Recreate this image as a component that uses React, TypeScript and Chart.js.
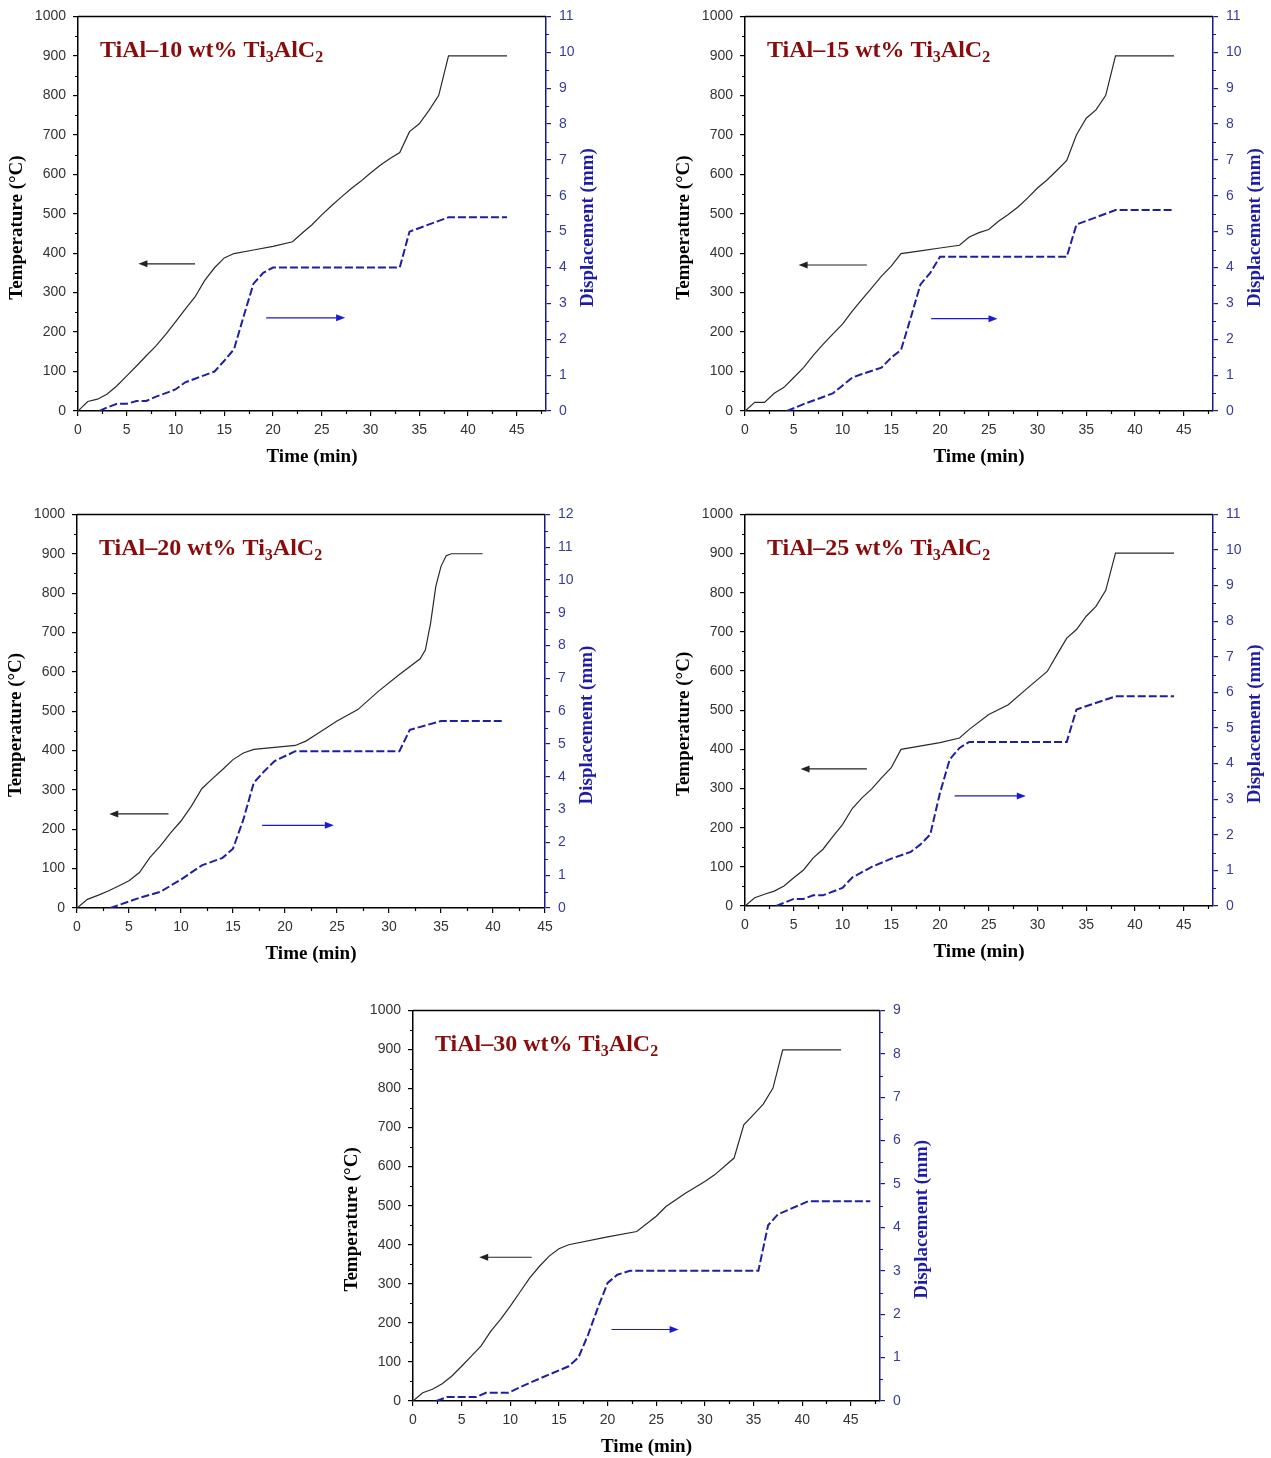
import React, { useEffect, useRef } from 'react';
import { Chart, registerables } from 'chart.js';
Chart.register(...registerables);

// ---------- tick values ----------
const xTickValues = [0, 5, 10, 15, 20, 25, 30, 35, 40, 45];
const tempTickValues = [0, 100, 200, 300, 400, 500, 600, 700, 800, 900, 1000];

// ---------- TiAl–10 wt% ----------
const time10 = [0, 1, 2, 3, 4, 5, 6, 7, 8, 9, 10, 11, 12, 13, 14, 15, 16, 18, 20, 22, 23, 24, 25, 26, 27, 28, 29, 30, 31, 32, 33, 34, 35, 36, 37, 38, 44];
const temp10 = [0, 24, 30, 43, 64, 89, 114, 140, 165, 194, 226, 258, 289, 331, 363, 388, 399, 408, 417, 429, 451, 472, 497, 520, 542, 563, 582, 603, 623, 640, 655, 708, 728, 762, 800, 900, 900];
const dispTime10 = [2.2, 3, 4, 5, 6, 7, 8, 9, 10, 11, 12, 13, 14, 15, 16, 17, 18, 19, 20, 33, 34, 38, 44];
const disp10 = [0, 0.1, 0.2, 0.2, 0.28, 0.28, 0.4, 0.5, 0.6, 0.8, 0.9, 1.0, 1.1, 1.4, 1.72, 2.65, 3.55, 3.85, 4.0, 4.0, 5.0, 5.4, 5.4];

// ---------- TiAl–15 wt% ----------
const time15 = [0, 1, 2, 3, 4, 5, 6, 7, 8, 9, 10, 11, 12, 13, 14, 15, 16, 18, 20, 22, 23, 24, 25, 26, 27, 28, 29, 30, 31, 32, 33, 34, 35, 36, 37, 38, 44];
const temp15 = [0, 22, 22, 45, 60, 85, 110, 141, 169, 195, 220, 253, 283, 312, 342, 367, 399, 406, 413, 420, 441, 452, 460, 481, 498, 517, 540, 565, 586, 610, 635, 700, 742, 763, 800, 900, 900];
const dispTime15 = [4.3, 6, 9, 11, 12, 14, 15, 16, 17, 18, 19, 20, 33, 34, 38, 44];
const disp15 = [0, 0.19, 0.49, 0.93, 1.03, 1.21, 1.49, 1.7, 2.6, 3.53, 3.85, 4.3, 4.3, 5.2, 5.6, 5.6];

// ---------- TiAl–20 wt% ----------
const time20 = [0, 1, 2, 3, 4, 5, 6, 7, 8, 9, 10, 11, 12, 13, 14, 15, 16, 17, 19, 21, 22, 23, 25, 27, 29, 31, 33, 33.5, 34, 34.5, 35, 35.5, 36, 39];
const temp20 = [0, 22, 32, 43, 56, 69, 90, 128, 157, 191, 221, 259, 303, 328, 352, 377, 394, 403, 408, 413, 424, 441, 475, 504, 551, 593, 633, 656, 724, 817, 868, 895, 900, 900];
const dispTime20 = [3.2, 6, 8, 10, 12, 14, 15, 16, 17, 18, 19, 21, 31, 32, 35, 41];
const disp20 = [0, 0.31, 0.49, 0.87, 1.3, 1.53, 1.81, 2.7, 3.82, 4.17, 4.48, 4.78, 4.78, 5.43, 5.7, 5.7];

// ---------- TiAl–25 wt% ----------
const time25 = [0, 1, 2, 3, 4, 5, 6, 7, 8, 9, 10, 11, 12, 13, 14, 15, 16, 20, 22, 23, 25, 27, 29, 31, 32, 33, 34, 35, 36, 37, 38, 44];
const temp25 = [0, 21, 30, 38, 51, 72, 92, 123, 145, 177, 208, 249, 276, 299, 327, 353, 400, 417, 429, 451, 489, 514, 557, 599, 642, 684, 706, 740, 765, 806, 901, 901];
const dispTime25 = [3.2, 5, 6, 7, 8, 10, 11, 13, 15, 17, 18, 19, 20, 21, 22, 23, 33, 34, 38, 44];
const disp25 = [0, 0.2, 0.2, 0.3, 0.3, 0.51, 0.8, 1.1, 1.33, 1.52, 1.73, 2.01, 3.18, 4.12, 4.44, 4.61, 4.61, 5.52, 5.89, 5.89];

// ---------- TiAl–30 wt% ----------
const time30 = [0, 1, 2, 3, 4, 5, 6, 7, 8, 9, 10, 11, 12, 13, 14, 15, 16, 20, 23, 25, 26, 28, 30, 31, 33, 34, 35, 36, 37, 38, 44];
const temp30 = [0, 21, 30, 44, 64, 89, 115, 141, 179, 209, 243, 279, 315, 345, 371, 390, 400, 420, 434, 473, 498, 532, 562, 579, 622, 707, 733, 760, 801, 899, 899];
const dispTime30 = [2.4, 3.5, 6.5, 7.5, 9.8, 12, 16, 17, 18, 19, 20, 21, 22.3, 35.5, 36.5, 37.5, 40.6, 47];
const disp30 = [0, 0.09, 0.09, 0.19, 0.19, 0.42, 0.8, 1.0, 1.53, 2.15, 2.72, 2.91, 3.0, 3.0, 4.05, 4.3, 4.6, 4.6];

const dispTicks = (max: number) => Array.from({ length: max + 1 }, (_, i) => i);

type Panel = {
  pct: string;
  time: number[]; temp: number[]; dTime: number[]; disp: number[];
  xMax: number; dMax: number;
  left: number; top: number; w: number; h: number;
  aL: number; aR: number; aT: number; aB: number;
  blackArrow: [number, number, number]; // x from, x to, y (temp units)
  blueArrow: [number, number, number];
};

const panels: Panel[] = [
  { pct: '10', time: time10, temp: temp10, dTime: dispTime10, disp: disp10, xMax: 48, dMax: 11,
    left: 0, top: 0, w: 625, h: 475, aL: 78, aR: 546, aT: 16, aB: 411,
    blackArrow: [12.0, 6.2, 373], blueArrow: [19.3, 27.4, 236] },
  { pct: '15', time: time15, temp: temp15, dTime: dispTime15, disp: disp15, xMax: 48, dMax: 11,
    left: 667, top: 0, w: 604, h: 475, aL: 78, aR: 546, aT: 16, aB: 411,
    blackArrow: [12.5, 5.5, 370], blueArrow: [19.1, 25.9, 234] },
  { pct: '20', time: time20, temp: temp20, dTime: dispTime20, disp: disp20, xMax: 45, dMax: 12,
    left: 0, top: 498, w: 625, h: 475, aL: 77, aR: 545, aT: 16, aB: 410,
    blackArrow: [8.8, 3.1, 239], blueArrow: [17.8, 24.7, 210] },
  { pct: '25', time: time25, temp: temp25, dTime: dispTime25, disp: disp25, xMax: 48, dMax: 11,
    left: 667, top: 498, w: 604, h: 475, aL: 78, aR: 546, aT: 16, aB: 408,
    blackArrow: [12.5, 5.7, 350], blueArrow: [21.5, 28.8, 281] },
  { pct: '30', time: time30, temp: temp30, dTime: dispTime30, disp: disp30, xMax: 48, dMax: 9,
    left: 335, top: 994, w: 625, h: 464, aL: 78, aR: 545, aT: 16, aB: 407,
    blackArrow: [12.2, 6.8, 368], blueArrow: [20.4, 27.3, 183] },
];

const SERIF = '"Liberation Serif", "Times New Roman", serif';
const SANS = '"Liberation Sans", Arial, sans-serif';
const BLUE_LINE = '#1f1fa3';
const BLUE_AXIS = '#1a1a8c';
const BLUE_TEXT = '#3a3a9e';
const RED = '#8a0b0b';

function decorPlugin(p: Panel) {
  return {
    id: 'decor' + p.pct,
    afterDraw(chart: any) {
      const ctx = chart.ctx as CanvasRenderingContext2D;
      const a = chart.chartArea;
      const sx = chart.scales.x, sy = chart.scales.y, sy2 = chart.scales.y2;
      ctx.save();
      // top frame
      ctx.strokeStyle = '#000';
      ctx.lineWidth = 1.5;
      ctx.beginPath();
      ctx.moveTo(a.left, a.top);
      ctx.lineTo(a.right, a.top);
      ctx.stroke();
      // minor ticks
      ctx.lineWidth = 1.2;
      ctx.strokeStyle = '#000';
      ctx.beginPath();
      for (let v = 2.5; v < p.xMax; v += 5) {
        const px = Math.round(sx.getPixelForValue(v)) + 0.5;
        ctx.moveTo(px, a.bottom);
        ctx.lineTo(px, a.bottom + 3);
      }
      for (let v = 50; v < 1000; v += 100) {
        const py = Math.round(sy.getPixelForValue(v)) + 0.5;
        ctx.moveTo(a.left - 3, py);
        ctx.lineTo(a.left, py);
      }
      ctx.stroke();
      ctx.strokeStyle = BLUE_AXIS;
      ctx.beginPath();
      for (let v = 0.5; v < p.dMax; v += 1) {
        const py = Math.round(sy2.getPixelForValue(v)) + 0.5;
        ctx.moveTo(a.right, py);
        ctx.lineTo(a.right + 3, py);
      }
      ctx.stroke();

      // arrows
      const arrow = (spec: [number, number, number], color: string) => {
        const x1 = sx.getPixelForValue(spec[0]);
        const x2 = sx.getPixelForValue(spec[1]);
        const y = sy.getPixelForValue(spec[2]);
        const dir = Math.sign(x2 - x1);
        ctx.strokeStyle = color;
        ctx.fillStyle = color;
        ctx.lineWidth = 1.2;
        ctx.beginPath();
        ctx.moveTo(x1, y);
        ctx.lineTo(x2 - dir * 6, y);
        ctx.stroke();
        ctx.beginPath();
        ctx.moveTo(x2, y);
        ctx.lineTo(x2 - dir * 9, y - 3.5);
        ctx.lineTo(x2 - dir * 9, y + 3.5);
        ctx.closePath();
        ctx.fill();
      };
      arrow(p.blackArrow, '#222');
      arrow(p.blueArrow, '#1a1ad0');

      // composition label with subscripts
      const main = 'bold 24px ' + SERIF;
      const sub = 'bold 16px ' + SERIF;
      let x = a.left + 22;
      const yb = a.top + 41;
      ctx.fillStyle = RED;
      ctx.textBaseline = 'alphabetic';
      ctx.textAlign = 'left';
      const parts: [string, boolean][] = [['TiAl\u2013' + p.pct + ' wt% Ti', false], ['3', true], ['AlC', false], ['2', true]];
      for (const [t, isSub] of parts) {
        ctx.font = isSub ? sub : main;
        ctx.fillText(t, x, isSub ? yb + 5 : yb);
        x += ctx.measureText(t).width;
      }

      // axis titles
      const midY = a.top + (a.bottom - a.top) * 0.535;
      ctx.font = 'bold 19px ' + SERIF;
      ctx.textAlign = 'center';
      ctx.textBaseline = 'middle';
      ctx.fillStyle = '#000';
      ctx.save();
      ctx.translate(a.left - 61, midY);
      ctx.rotate(-Math.PI / 2);
      ctx.fillText('Temperature (\u00B0C)', 0, 0);
      ctx.restore();
      ctx.save();
      ctx.fillStyle = '#1c1ca8';
      ctx.translate(a.right + 42, midY);
      ctx.rotate(-Math.PI / 2);
      ctx.fillText('Displacement (mm)', 0, 0);
      ctx.restore();
      ctx.fillText('Time (min)', (a.left + a.right) / 2, a.bottom + 46);
      ctx.restore();
    },
  };
}

function buildConfig(p: Panel): any {
  const tickFont = { family: SANS, size: 14 };
  const plain = (v: any) => String(v);
  return {
    type: 'line',
    data: {
      datasets: [
        {
          data: p.time.map((t, i) => ({ x: t, y: p.temp[i] })),
          yAxisID: 'y',
          borderColor: '#2a2a2a',
          borderWidth: 1.2,
          pointRadius: 0,
          tension: 0,
          fill: false,
        },
        {
          data: p.dTime.map((t, i) => ({ x: t, y: p.disp[i] })),
          yAxisID: 'y2',
          borderColor: BLUE_LINE,
          borderWidth: 2,
          borderDash: [8, 3],
          pointRadius: 0,
          tension: 0,
          fill: false,
        },
      ],
    },
    options: {
      responsive: false,
      animation: false,
      devicePixelRatio: 1,
      events: [],
      layout: { padding: { top: p.aT, left: 0, right: 0, bottom: 0 } },
      plugins: { legend: { display: false }, tooltip: { enabled: false }, title: { display: false } },
      scales: {
        x: {
          type: 'linear',
          position: 'bottom',
          min: 0,
          max: p.xMax,
          afterBuildTicks: (s: any) => { s.ticks = xTickValues.map((v) => ({ value: v })); },
          afterFit: (s: any) => { s.height = p.h - p.aB; },
          grid: { drawOnChartArea: false, drawTicks: true, tickLength: 5, color: '#000', lineWidth: 1.2 },
          border: { display: true, color: '#000', width: 1.5 },
          ticks: { font: tickFont, color: '#333', padding: 6, autoSkip: false, maxRotation: 0, callback: plain },
        },
        y: {
          type: 'linear',
          position: 'left',
          min: 0,
          max: 1000,
          afterBuildTicks: (s: any) => { s.ticks = tempTickValues.map((v) => ({ value: v })); },
          afterFit: (s: any) => { s.width = p.aL; },
          grid: { drawOnChartArea: false, drawTicks: true, tickLength: 5, color: '#000', lineWidth: 1.2 },
          border: { display: true, color: '#000', width: 1.5 },
          ticks: { font: tickFont, color: '#333', padding: 7, autoSkip: false, callback: plain },
        },
        y2: {
          type: 'linear',
          position: 'right',
          min: 0,
          max: p.dMax,
          afterBuildTicks: (s: any) => { s.ticks = dispTicks(p.dMax).map((v) => ({ value: v })); },
          afterFit: (s: any) => { s.width = p.w - p.aR; },
          grid: { drawOnChartArea: false, drawTicks: true, tickLength: 5, color: BLUE_AXIS, lineWidth: 1.2 },
          border: { display: true, color: BLUE_AXIS, width: 1.5 },
          ticks: { font: tickFont, color: BLUE_TEXT, padding: 8, autoSkip: false, callback: plain },
        },
      },
    },
    plugins: [decorPlugin(p)],
  };
}

function ChartPanel({ p }: { p: Panel }) {
  const ref = useRef<HTMLCanvasElement | null>(null);
  useEffect(() => {
    if (!ref.current) return;
    const chart = new Chart(ref.current, buildConfig(p));
    return () => chart.destroy();
  }, [p]);
  return (
    <canvas
      ref={ref}
      width={p.w}
      height={p.h}
      style={{ position: 'absolute', left: p.left, top: p.top, width: p.w, height: p.h }}
    />
  );
}

export default function App() {
  return (
    <div style={{ position: 'absolute', left: 0, top: 0, width: 1271, height: 1458, background: '#fff', overflow: 'hidden' }}>
      {panels.map((p) => (
        <ChartPanel key={p.pct} p={p} />
      ))}
    </div>
  );
}
